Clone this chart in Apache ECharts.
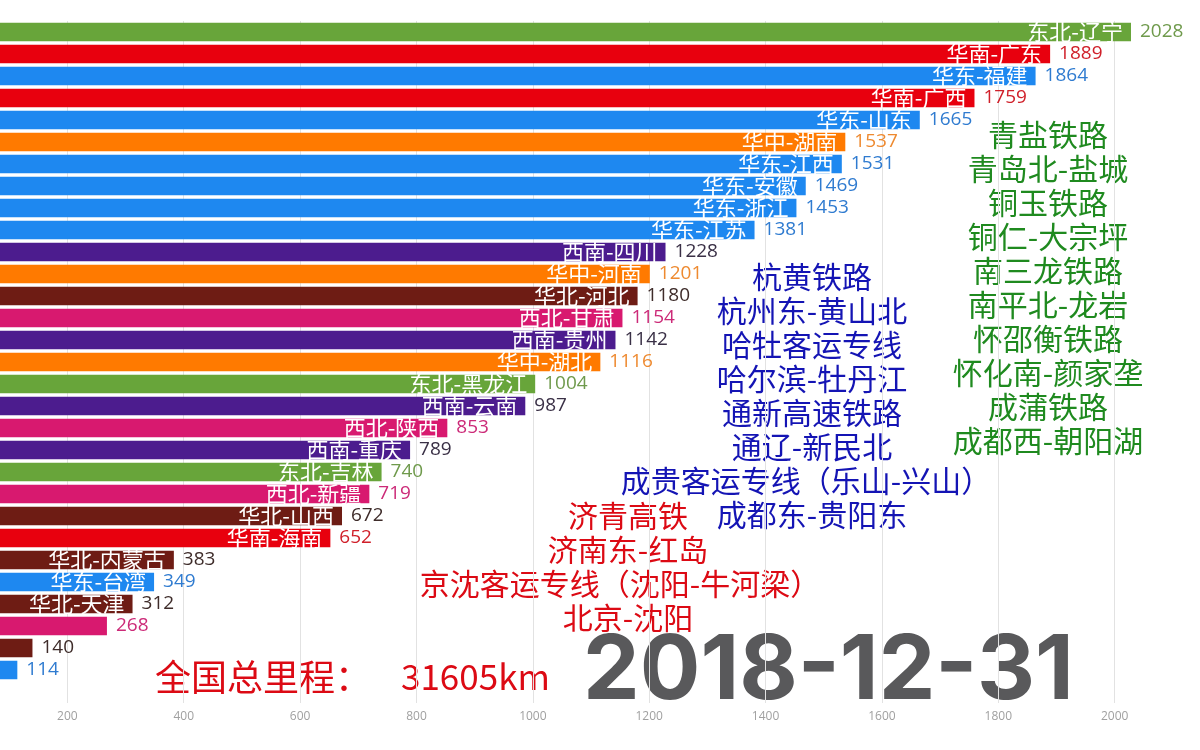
<!DOCTYPE html>
<html>
<head>
<meta charset="utf-8">
<script src="https://cdn.jsdelivr.net/npm/echarts@6/dist/echarts.min.js"></script>
<style>
html,body{margin:0;padding:0;background:#fff;overflow:hidden;width:1200px;height:750px;position:relative;}
#chart{position:absolute;left:-49px;top:0;width:1249px;height:750px;}
</style>
</head>
<body>
<div id="chart"></div>
<script>
// ---- data ----
const categories = ['东北-辽宁','华南-广东','华东-福建','华南-广西','华东-山东','华中-湖南','华东-江西','华东-安徽','华东-浙江','华东-江苏','西南-四川','华中-河南','华北-河北','西北-甘肃','西南-贵州','华中-湖北','东北-黑龙江','西南-云南','西北-陕西','西南-重庆','东北-吉林','西北-新疆','华北-山西','华南-海南','华北-内蒙古','华东-台湾','华北-天津','西北-青海','华北-北京','华东-上海','华南-香港'];
const values = [2028,1889,1864,1759,1665,1537,1531,1469,1453,1381,1228,1201,1180,1154,1142,1116,1004,987,853,789,740,719,672,652,383,349,312,268,140,114,26];
const xTickInterval = 200;
const greenLines = ['青盐铁路','青岛北-盐城','铜玉铁路','铜仁-大宗坪','南三龙铁路','南平北-龙岩','怀邵衡铁路','怀化南-颜家垄','成蒲铁路','成都西-朝阳湖'];
const blueLines = ['杭黄铁路','杭州东-黄山北','哈牡客运专线','哈尔滨-牡丹江','通新高速铁路','通辽-新民北','成贵客运专线（乐山-兴山）','成都东-贵阳东'];
const redLines = ['济青高铁','济南东-红岛','京沈客运专线（沈阳-牛河梁）','北京-沈阳'];
const totalTitle = '全国总里程：';
const totalKm = '31605km';
const dateText = '2018-12-31';

// ---- style ----
const OFF = 49; // chart container is shifted left by this many px
const regionColors = {'东北':'#68a53a','华南':'#e8000e','华东':'#1e88f0','华中':'#ff7a00','西南':'#4c1c8e','华北':'#6e1c14','西北':'#d8196f'};
const valueColors = {'东北':'#6f9a4c','华南':'#d0202a','华东':'#2f7bd0','华中':'#ee8a30','西南':'#3a3046','华北':'#3e2c2a','西北':'#cc2a78'};
const regionOf = n => n.split('-')[0];
const CJK = '"Noto Sans CJK SC"';

const chart = echarts.init(document.getElementById('chart'));

const graphic = [];
greenLines.forEach((t,i)=>graphic.push({type:'text',x:OFF+1048,y:135+i*34,style:{text:t,fill:'#1f8a1f',font:'30px '+CJK,textAlign:'center',textVerticalAlign:'middle'}}));
blueLines.forEach((t,i)=>graphic.push({type:'text',x:OFF+(i===6?806:812),y:277+i*34,style:{text:t,fill:'#1414b4',font:'30px '+CJK,textAlign:'center',textVerticalAlign:'middle'}}));
redLines.forEach((t,i)=>graphic.push({type:'text',x:OFF+(i===2?620:628),y:516+i*34,style:{text:t,fill:'#dc0a14',font:'30px '+CJK,textAlign:'center',textVerticalAlign:'middle'}}));
graphic.push({type:'text',x:OFF+155,y:677,style:{text:'{a|'+totalTitle+'}{b|'+totalKm+'}',textAlign:'left',textVerticalAlign:'middle',
  rich:{a:{fontSize:36,fontFamily:CJK,fill:'#dc0a14',color:'#dc0a14'},b:{fontSize:35,fontFamily:CJK,fill:'#dc0a14',color:'#dc0a14',padding:[0,0,0,30]}}}});
graphic.push({type:'text',x:OFF+583,y:672,style:{text:dateText,fill:'#59595b',font:'bold 90px Inter',textAlign:'left',textVerticalAlign:'middle'}});

chart.setOption({
  animation:false,
  backgroundColor:'#ffffff',
  grid:{left:0,right:69,top:21,bottom:47,containLabel:false},
  xAxis:{type:'value',min:0,max:'dataMax',interval:xTickInterval,
    axisLine:{show:false},axisTick:{show:false},
    axisLabel:{color:'#a0a0a0',fontSize:12,fontFamily:'"Open Sans"',margin:8,showMaxLabel:false,showMinLabel:false,formatter:v=>String(v)},
    splitLine:{show:true,showMaxLine:false,lineStyle:{color:'#e2e2e2',width:1}}},
  yAxis:{type:'category',inverse:true,data:categories,show:false},
  series:[
    {type:'bar',barCategoryGap:'17%',
      data:values.map((v,i)=>({value:v,itemStyle:{color:regionColors[regionOf(categories[i])]}})),
      label:{show:true,position:'insideRight',distance:8,color:'#ffffff',fontSize:22,fontFamily:CJK,
        formatter:p=>p.value>=300?p.name:''}},
    {type:'bar',barGap:'-100%',barCategoryGap:'17%',silent:true,
      data:values.map((v,i)=>({value:v,label:{color:valueColors[regionOf(categories[i])]}})),
      itemStyle:{color:'rgba(0,0,0,0)'},
      label:{show:true,position:'right',distance:9,fontSize:19,fontFamily:'"Open Sans"',formatter:'{c}'}}
  ],
  graphic:graphic
});
</script>
</body>
</html>
